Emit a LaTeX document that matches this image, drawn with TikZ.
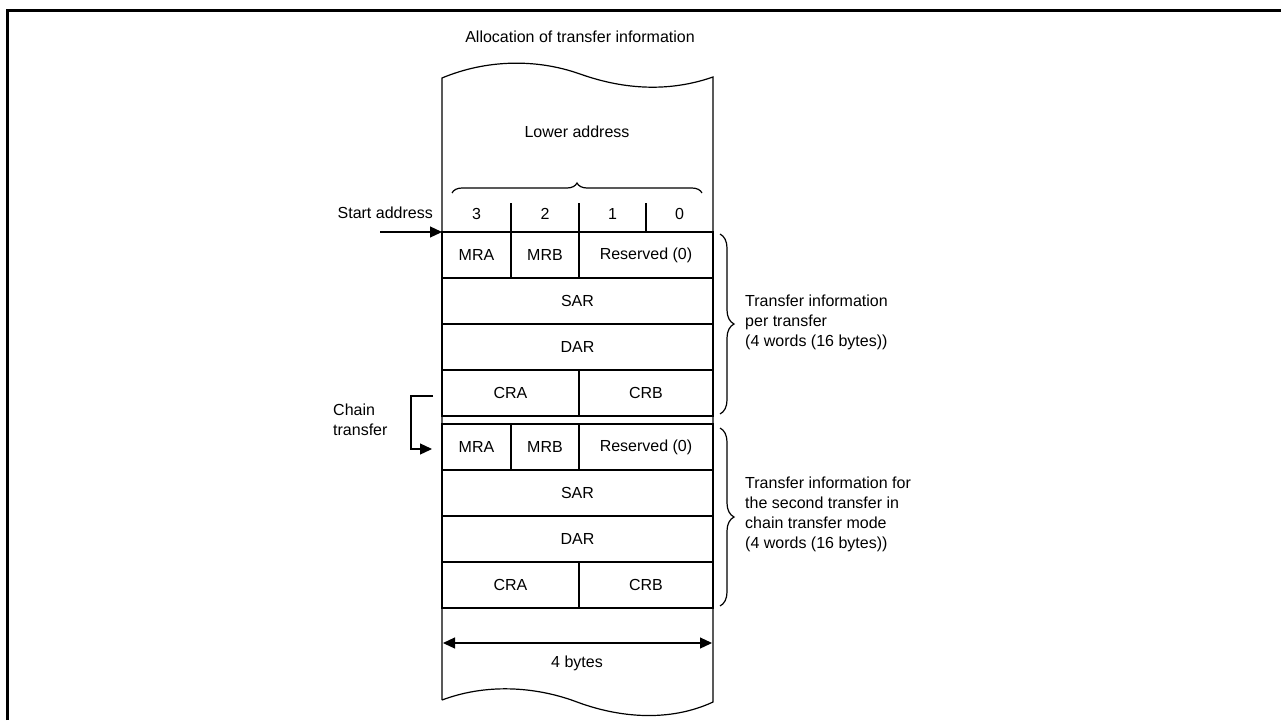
\documentclass[tikz,border=0pt]{standalone}
\usepackage{fontspec}
\setmainfont{Liberation Sans}
\usetikzlibrary{arrows.meta,positioning,decorations.pathreplacing}

\begin{document}
\begin{tikzpicture}[
  x=1pt, y=-1pt,
  every node/.style={font=\fontsize{16}{20}\selectfont},
  cell/.style={
    draw, line width=1.2pt,
    minimum height=46pt, inner sep=0pt, outer sep=0pt},
  lbl/.style={align=left, inner sep=0pt},
  arr/.style={-{Triangle[length=12pt,width=11pt]}, line width=1.2pt},
  brc/.style={decorate, decoration={brace, amplitude=#1}, line width=1.2pt}
]
  \useasboundingbox (0,0) rectangle (1281,720);
  \draw[line width=3pt] (7.5,720) -- (7.5,10.5) -- (1281,10.5);

  \node (title) at (580,37) {Allocation of transfer information};

  % memory strip with wavy ends
  \draw[line width=1.2pt] (442,700) -- (442,78)
    .. controls (485,60) and (535,58) .. (580,74)
    .. controls (625,90) and (670,92) .. (713,77) -- (713,702)
    .. controls (670,722) and (620,718) .. (577,702)
    .. controls (540,688) and (490,682) .. (442,700);

  \node (lower) at (577,132) {Lower address};
  \draw[brc=10pt] (452,193) -- (702,193);

  % byte numbers
  \node (b3) at (476.5,214) {3};
  \node (b2) at (545,214) {2};
  \node (b1) at (612.5,214) {1};
  \node (b0) at (679.5,214) {0};
  \draw[line width=1.2pt] (511,203) -- (511,232) (579,203) -- (579,232)
    (646,203) -- (646,232);

  % first transfer information
  \node[cell, minimum width=69pt] (mraA) at (476.5,255) {MRA};
  \node[cell, minimum width=68pt, right=0pt of mraA] (mrbA) {MRB};
  \node[cell, minimum width=134pt, right=0pt of mrbA] (resA) {Reserved (0)};
  \node[cell, minimum width=271pt, anchor=north west] (sarA) at (mraA.south west) {SAR};
  \node[cell, minimum width=271pt, below=0pt of sarA] (darA) {DAR};
  \node[cell, minimum width=137pt, anchor=north west] (craA) at (darA.south west) {CRA};
  \node[cell, minimum width=134pt, right=0pt of craA] (crbA) {CRB};

  % second transfer information
  \node[cell, minimum width=69pt, below=8pt of craA.south west, anchor=north west] (mraB) {MRA};
  \node[cell, minimum width=68pt, right=0pt of mraB] (mrbB) {MRB};
  \node[cell, minimum width=134pt, right=0pt of mrbB] (resB) {Reserved (0)};
  \node[cell, minimum width=271pt, anchor=north west] (sarB) at (mraB.south west) {SAR};
  \node[cell, minimum width=271pt, below=0pt of sarB] (darB) {DAR};
  \node[cell, minimum width=137pt, anchor=north west] (craB) at (darB.south west) {CRA};
  \node[cell, minimum width=134pt, right=0pt of craB] (crbB) {CRB};

  % braces and notes
  \draw[brc=14pt] (720,234) -- (720,414);
  \node[lbl, anchor=west] (infoA) at (745,322)
    {Transfer information\\per transfer\\(4 words (16 bytes))};
  \draw[brc=14pt] (720,428) -- (720,606);
  \node[lbl, anchor=west] (infoB) at (745,514)
    {Transfer information for\\the second transfer in\\chain transfer mode\\(4 words (16 bytes))};

  % start address
  \node[anchor=east, inner sep=0pt] (start) at (433,213) {Start address};
  \coordinate (startin) at (380,232);
  \draw[arr] (startin) -- (mraA.north west);

  % chain transfer
  \node[lbl, anchor=west] (chain) at (333,420) {Chain\\transfer};
  \coordinate (chainfrom) at (433,396);
  \coordinate (chainto) at (432,449);
  \draw[arr] (chainfrom) -- (411,396) |- (chainto);

  % width
  \coordinate (wl) at (443,643);
  \coordinate (wr) at (712,643);
  \draw[{Triangle[length=12pt,width=11pt]}-{Triangle[length=12pt,width=11pt]}, line width=1.2pt] (wl) -- (wr);
  \node (width) at (577,663) {4 bytes};
\end{tikzpicture}
\end{document}
